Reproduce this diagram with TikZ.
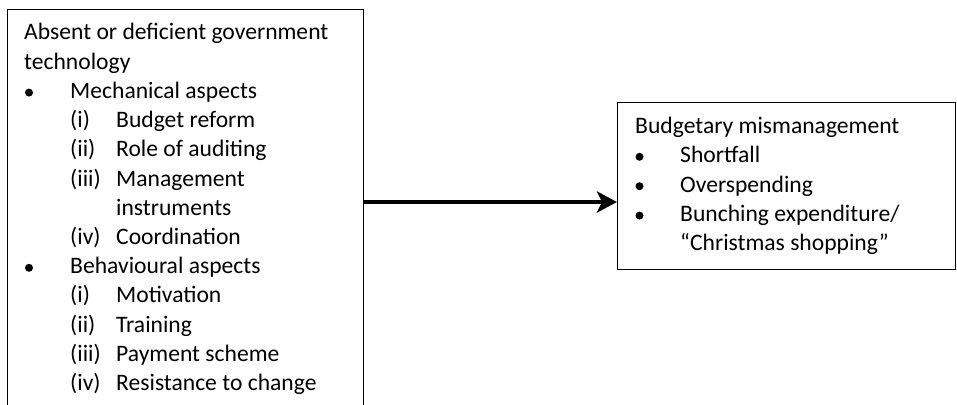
\documentclass[tikz,border=0pt]{standalone}
\usepackage{fontspec}
\setmainfont{Carlito}
\usetikzlibrary{arrows.meta}
\begin{document}
\begin{tikzpicture}[x=1pt,y=-1pt,
  box/.style={draw=black,line width=1pt,fill=none,inner sep=0pt,anchor=north west},
  txt/.style={anchor=base west,inner sep=0pt,font=\fontsize{23.6}{29}\selectfont,text=black},
  dot/.style={circle,fill=black,inner sep=0pt,minimum size=8pt},
  link/.style={line width=4.5pt,-{Stealth[length=20pt,width=21pt,inset=5pt]}}]
\useasboundingbox (0,0) rectangle (957,404);
\clip (0,0) rectangle (957,404);
% boxes
\node[box,minimum width=356pt,minimum height=420pt] (lbox) at (7,9) {};
\node[box,minimum width=338pt,minimum height=167pt] (rbox) at (617,102) {};
% left box text
\node[txt] (l1) at (24,40) {Absent or deficient government};
\node[txt] (l2) at (24,69.2) {technology};
\node[dot] (lb1) at (29,92.6) {};
\node[txt] (l3) at (70,98.4) {Mechanical aspects};
\node[txt] (l4n) at (70,127.6) {(i)};
\node[txt] (l4) at (116,127.6) {Budget reform};
\node[txt] (l5n) at (70,156.8) {(ii)};
\node[txt] (l5) at (116,156.8) {Role of auditing};
\node[txt] (l6n) at (70,186) {(iii)};
\node[txt] (l6) at (116,186) {Management};
\node[txt] (l7) at (116,215.2) {instruments};
\node[txt] (l8n) at (70,244.4) {(iv)};
\node[txt] (l8) at (116,244.4) {Coordination};
\node[dot] (lb2) at (29,267.8) {};
\node[txt] (l9) at (70,273.6) {Behavioural aspects};
\node[txt] (l10n) at (70,302.8) {(i)};
\node[txt] (l10) at (116,302.8) {Motivation};
\node[txt] (l11n) at (70,332) {(ii)};
\node[txt] (l11) at (116,332) {Training};
\node[txt] (l12n) at (70,361.2) {(iii)};
\node[txt] (l12) at (116,361.2) {Payment scheme};
\node[txt] (l13n) at (70,390.4) {(iv)};
\node[txt] (l13) at (116,390.4) {Resistance to change};
% right box text
\node[txt] (r1) at (635,133.2) {Budgetary mismanagement};
\node[dot] (rb1) at (639.5,156.8) {};
\node[txt] (r2) at (680,162.6) {Shortfall};
\node[dot] (rb2) at (639.5,186.2) {};
\node[txt] (r3) at (680,192) {Overspending};
\node[dot] (rb3) at (639.5,215.6) {};
\node[txt] (r4) at (680,221.4) {Bunching expenditure/};
\node[txt] (r5) at (680,250.8) {“Christmas shopping”};
% arrow
\coordinate (ay) at (0,202);
\draw[link] (lbox.east |- ay) -- (rbox.west |- ay);
\end{tikzpicture}
\end{document}
